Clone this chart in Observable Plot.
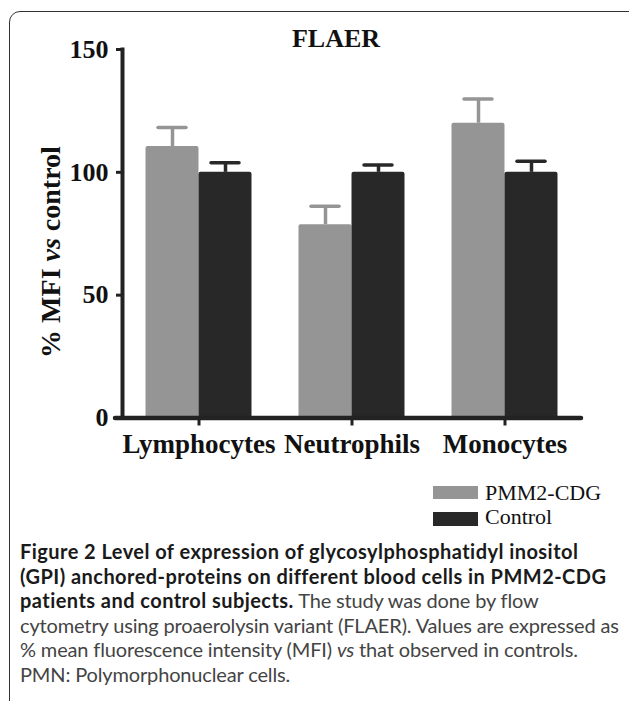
<!DOCTYPE html>
<html>
<head>
<meta charset="utf-8">
<script src="https://cdn.jsdelivr.net/npm/d3@7"></script>
<script src="https://cdn.jsdelivr.net/npm/@observablehq/plot@0.6"></script>
<style>
  html, body { margin: 0; padding: 0; background: #fff; width: 629px; height: 701px; overflow: hidden; position: relative; }
  #box { position: absolute; left: 9px; top: 11px; width: 660px; height: 740px; border: 1.5px solid #333; border-radius: 11px; box-sizing: border-box; }
  #chart { position: absolute; left: 0; top: 0; }
  .sw { position: absolute; width: 45px; }
  .lg { position: absolute; font-family: "Liberation Serif", serif; font-size: 22px; line-height: 22px; color: #111; white-space: nowrap; }
  #caption { position: absolute; left: 20px; top: 539px; font-family: Lato, sans-serif; font-size: 20px; line-height: 24.5px; color: #444; white-space: nowrap; letter-spacing: -0.15px; }
  #caption b { color: #1a1a1a; font-weight: 700; letter-spacing: 0.45px; }
</style>
</head>
<body>
<div id="box"></div>
<div id="chart"></div>
<div id="legend"></div>
<div id="caption"></div>
<script>
// ---- data ----
const categories = ["Lymphocytes", "Neutrophils", "Monocytes"];
const seriesNames = ["PMM2-CDG", "Control"];
const pmm2Values = [110.5, 78.7, 120.0];
const pmm2Errors = [7.7, 7.5, 9.9];
const controlValues = [100, 100, 100];
const controlErrors = [3.9, 3.0, 4.5];
const yTicks = [0, 50, 100, 150];
const chartTitle = "FLAER";
const yLabelParts = ["% MFI ", "vs", " control"];
const captionBold = ["Figure 2 Level of expression of glycosylphosphatidyl inositol", "(GPI) anchored-proteins on different blood cells in PMM2-CDG", "patients and control subjects."];
const captionRest = [" The study was done by flow", "cytometry using proaerolysin variant (FLAER). Values are expressed as", "% mean fluorescence intensity (MFI) ", "vs", " that observed in controls.", "PMN: Polymorphonuclear cells."];

const colors = {"PMM2-CDG": "#959595", "Control": "#282828"};
const pmmRows = categories.map((c, i) => ({category: c, series: seriesNames[0], value: pmm2Values[i], err: pmm2Errors[i]}));
const ctlRows = categories.map((c, i) => ({category: c, series: seriesNames[1], value: controlValues[i], err: controlErrors[i]}));

const axisColor = "#222";
const serif = "'Liberation Serif', 'Times New Roman', serif";

const plot = Plot.plot({
  width: 629,
  height: 470,
  marginLeft: 122,
  marginRight: 48,
  marginTop: 49,
  marginBottom: 52.5,
  style: {background: "transparent", fontFamily: serif, color: "#111"},
  x: {type: "band", domain: categories, padding: 0, axis: null},
  y: {domain: [0, 150], axis: null},
  marks: [
    // error stems and caps
    Plot.ruleX(pmmRows, {x: "category", y1: "value", y2: d => d.value + d.err, dx: -26.5, stroke: colors["PMM2-CDG"], strokeWidth: 3.5}),
    Plot.tickY(pmmRows, {x: "category", y: d => d.value + d.err, insetLeft: 36, insetRight: 89, stroke: colors["PMM2-CDG"], strokeWidth: 3.5, strokeLinecap: "round"}),
    Plot.ruleX(ctlRows, {x: "category", y1: "value", y2: d => d.value + d.err, dx: 26.5, stroke: colors["Control"], strokeWidth: 3.5}),
    Plot.tickY(ctlRows, {x: "category", y: d => d.value + d.err, insetLeft: 89, insetRight: 36, stroke: colors["Control"], strokeWidth: 3.5, strokeLinecap: "round"}),
    // bars
    Plot.barY(pmmRows, {x: "category", y: "value", fill: colors["PMM2-CDG"], insetLeft: 23.5, insetRight: 76.5, rx: 2}),
    Plot.barY(ctlRows, {x: "category", y: "value", fill: colors["Control"], insetLeft: 76.5, insetRight: 23.5, rx: 2}),
    // axes
    Plot.axisY({ticks: yTicks, tickSize: 6, tickPadding: 8, fontSize: 26, fontWeight: "bold", stroke: axisColor, strokeWidth: 3, fill: "#111", label: null}),
    Plot.axisX({tickSize: 8, tickPadding: 8, fontSize: 27, fontWeight: "bold", stroke: axisColor, strokeWidth: 3, fill: "#111", label: null}),
    Plot.frame({anchor: "left", stroke: axisColor, strokeWidth: 4}),
    Plot.ruleY([0], {stroke: axisColor, strokeWidth: 4.5, insetLeft: -7, strokeLinecap: "round"})
  ]
});
document.getElementById("chart").appendChild(plot);

// title and y-axis label as SVG text
const svg = d3.select(plot);
svg.append("text")
  .attr("x", 336).attr("y", 46.7)
  .attr("text-anchor", "middle")
  .attr("font-family", serif).attr("font-size", 26).attr("font-weight", "bold").attr("fill", "#111")
  .text(chartTitle);
const yl = svg.append("text")
  .attr("transform", "translate(60,252) rotate(-90)")
  .attr("text-anchor", "middle")
  .attr("font-family", serif).attr("font-size", 28).attr("font-weight", "bold").attr("fill", "#111");
yLabelParts.forEach((p, i) => {
  const t = yl.append("tspan").text(p);
  if (i === 1) t.attr("font-style", "italic");
});

// legend
const legend = document.getElementById("legend");
const legendRows = [{name: seriesNames[0], swTop: 486, swH: 13, textTop: 481.5}, {name: seriesNames[1], swTop: 512, swH: 14, textTop: 505.5}];
legendRows.forEach(r => {
  const s = document.createElement("div");
  s.className = "sw";
  s.style.left = "433px"; s.style.top = r.swTop + "px"; s.style.height = r.swH + "px";
  s.style.background = colors[r.name];
  legend.appendChild(s);
  const t = document.createElement("div");
  t.className = "lg";
  t.style.left = "485px"; t.style.top = r.textTop + "px";
  t.textContent = r.name;
  legend.appendChild(t);
});

// caption
const cap = document.getElementById("caption");
cap.innerHTML =
  "<b>" + captionBold[0] + "</b><br>" +
  "<b>" + captionBold[1] + "</b><br>" +
  "<b>" + captionBold[2] + "</b>" + captionRest[0] + "<br>" +
  captionRest[1] + "<br>" +
  captionRest[2] + "<i>" + captionRest[3] + "</i>" + captionRest[4] + "<br>" +
  captionRest[5];
</script>
</body>
</html>
